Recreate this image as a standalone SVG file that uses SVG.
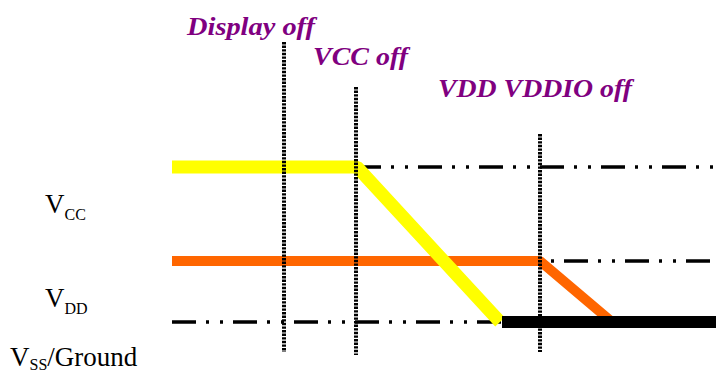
<svg xmlns="http://www.w3.org/2000/svg" width="716" height="374" viewBox="0 0 716 374">
<style>
.dd{fill:none;stroke:#000;stroke-width:3.5;stroke-dasharray:24 10 3 11 3 10;stroke-linecap:butt}
.vd{fill:none;stroke:#000;stroke-width:4;stroke-dasharray:2.4 1.2}
.lbl{font-family:"Liberation Serif","Times New Roman",serif;font-style:italic;font-weight:bold;fill:#800080}
.v{font-family:"Liberation Serif","Times New Roman",serif;fill:#000}
</style>
<rect width="716" height="374" fill="#fff"/>
<g id="reference-lines">
<line class="dd" x1="357" y1="167" x2="716" y2="167"/>
<line class="dd" x1="540" y1="261" x2="716" y2="261" stroke-dashoffset="-24"/>
<line class="dd" x1="172" y1="322" x2="502" y2="322"/>
</g>
<g id="rails">
<polyline id="vdd" points="172,261 540,261 612,322" fill="none" stroke="#FF6600" stroke-width="10" stroke-linejoin="bevel"/>
<polyline id="vcc" points="172,167 357,167 500,322" fill="none" stroke="#FFFF00" stroke-width="13" stroke-linejoin="bevel"/>
<line id="vss" x1="502" y1="322" x2="716" y2="322" stroke="#000" stroke-width="12"/>
</g>
<g id="markers">
<line class="vd" x1="284" y1="42" x2="284" y2="352"/>
<line class="vd" x1="356" y1="87" x2="356" y2="355"/>
<line class="vd" x1="540" y1="134" x2="540" y2="352"/>
</g>
<g id="event-labels">
<text class="lbl" x="187" y="35" font-size="25" textLength="128" lengthAdjust="spacingAndGlyphs">Display off</text>
<text class="lbl" x="313" y="65" font-size="25" textLength="95" lengthAdjust="spacingAndGlyphs">VCC off</text>
<text class="lbl" x="438" y="97" font-size="25" textLength="194" lengthAdjust="spacingAndGlyphs">VDD VDDIO off</text>
</g>
<g id="rail-labels">
<text class="v" x="45" y="213" font-size="27">V<tspan font-size="16" dy="7">CC</tspan></text>
<text class="v" x="45" y="307" font-size="27">V<tspan font-size="16" dy="7">DD</tspan></text>
<text class="v" x="10" y="366" font-size="27">V<tspan font-size="16" dy="4">SS</tspan><tspan dy="-4">/Ground</tspan></text>
</g>
</svg>
